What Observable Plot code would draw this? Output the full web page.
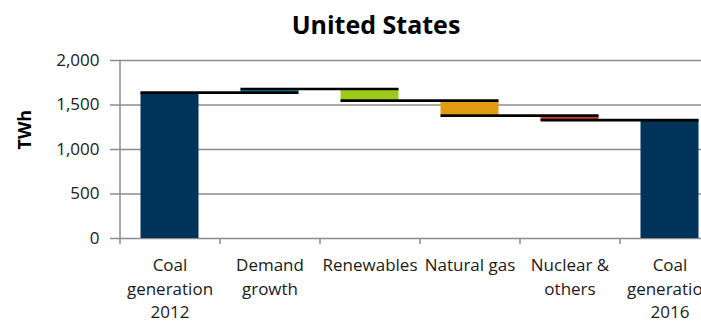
<!DOCTYPE html>
<html>
<head>
<meta charset="utf-8">
<script src="https://cdn.jsdelivr.net/npm/d3@7"></script>
<script src="https://cdn.jsdelivr.net/npm/@observablehq/plot@0.6"></script>
<style>
  html, body { margin: 0; padding: 0; background: #fff; overflow: hidden; }
  #wrap { position: relative; width: 701px; height: 323px; overflow: hidden; }
  #title {
    width: 752px; height: 44px; text-align: center;
    font: bold 25px "Open Sans", sans-serif; color: #000;
    line-height: 48px;
  }
</style>
</head>
<body>
<div id="wrap">
  <div id="title">United States</div>
  <div id="chart"></div>
</div>
<script>
// Coal generation bridge, 2012 -> 2016 (TWh)
const categories = ["Coal\ngeneration\n2012", "Demand\ngrowth", "Renewables", "Natural gas", "Nuclear &\nothers", "Coal\ngeneration\n2016"];
const kinds = ["total", "step", "step", "step", "step", "total"];
const values = [1640, 40, -130, -170, -50, 1330];
const colors = ["#00335a", "#1a8cb6", "#9ecb19", "#e39b14", "#d5382e", "#00335a"];
const yTicks = [0, 500, 1000, 1500, 2000];

// Running totals give each bar its base and top
let level = 0;
const bars = values.map((v, i) => {
  let y1, y2;
  if (kinds[i] === "total") { y1 = 0; y2 = v; level = v; }
  else { y1 = level; y2 = level + v; level = y2; }
  return { i, y1, y2, end: level, fill: colors[i] };
});

// Connector from each bar's level to the next bar
const connectors = bars.slice(0, -1).map(b => ({ x1: b.i - 0.29, x2: b.i + 1.29, y: b.end }));
const boundaries = d3.range(categories.length).map(i => i - 0.5);
const gray = "#8c8c8c";

const chart = Plot.plot({
  width: 701,
  height: 279,
  marginTop: 16,
  marginBottom: 85,
  marginLeft: 120,
  marginRight: 0,
  style: { fontFamily: "'Open Sans', sans-serif", fontSize: "17px", color: "#1a1a1a", background: "#fff", overflow: "hidden" },
  x: { type: "linear", domain: [-0.5, 5.5], range: [119.5, 719.5] },
  y: { domain: [0, 2000] },
  marks: [
    Plot.gridY(yTicks, { stroke: gray, strokeOpacity: 1, strokeWidth: 1.5 }),
    Plot.ruleX([-0.5], { y1: 0, y2: 2000, stroke: gray, strokeWidth: 1.5 }),
    Plot.axisY(yTicks, { tickFormat: d3.format(","), tickSize: 10, tickPadding: 11, stroke: gray, strokeWidth: 1.5, color: "#1a1a1a", label: null }),
    Plot.axisX(boundaries, { tickSize: 6, tickFormat: () => "", stroke: gray, strokeWidth: 1.5, label: null }),
    Plot.axisX(d3.range(categories.length), { tickSize: 0, tickPadding: 16, tickFormat: i => categories[i], lineHeight: 1.38, color: "#1a1a1a", label: null }),
    Plot.rectY(bars, { x1: d => d.i - 0.29, x2: d => d.i + 0.29, y1: "y1", y2: "y2", fill: "fill" }),
    Plot.ruleY(connectors, { x1: "x1", x2: "x2", y: "y", stroke: "#000", strokeWidth: 2.7 }),
    Plot.text(["TWh"], { frameAnchor: "left", dx: -95, rotate: -90, fontWeight: "bold", fontSize: 18, fill: "#000" })
  ]
});
document.getElementById("chart").appendChild(chart);
</script>
</body>
</html>
